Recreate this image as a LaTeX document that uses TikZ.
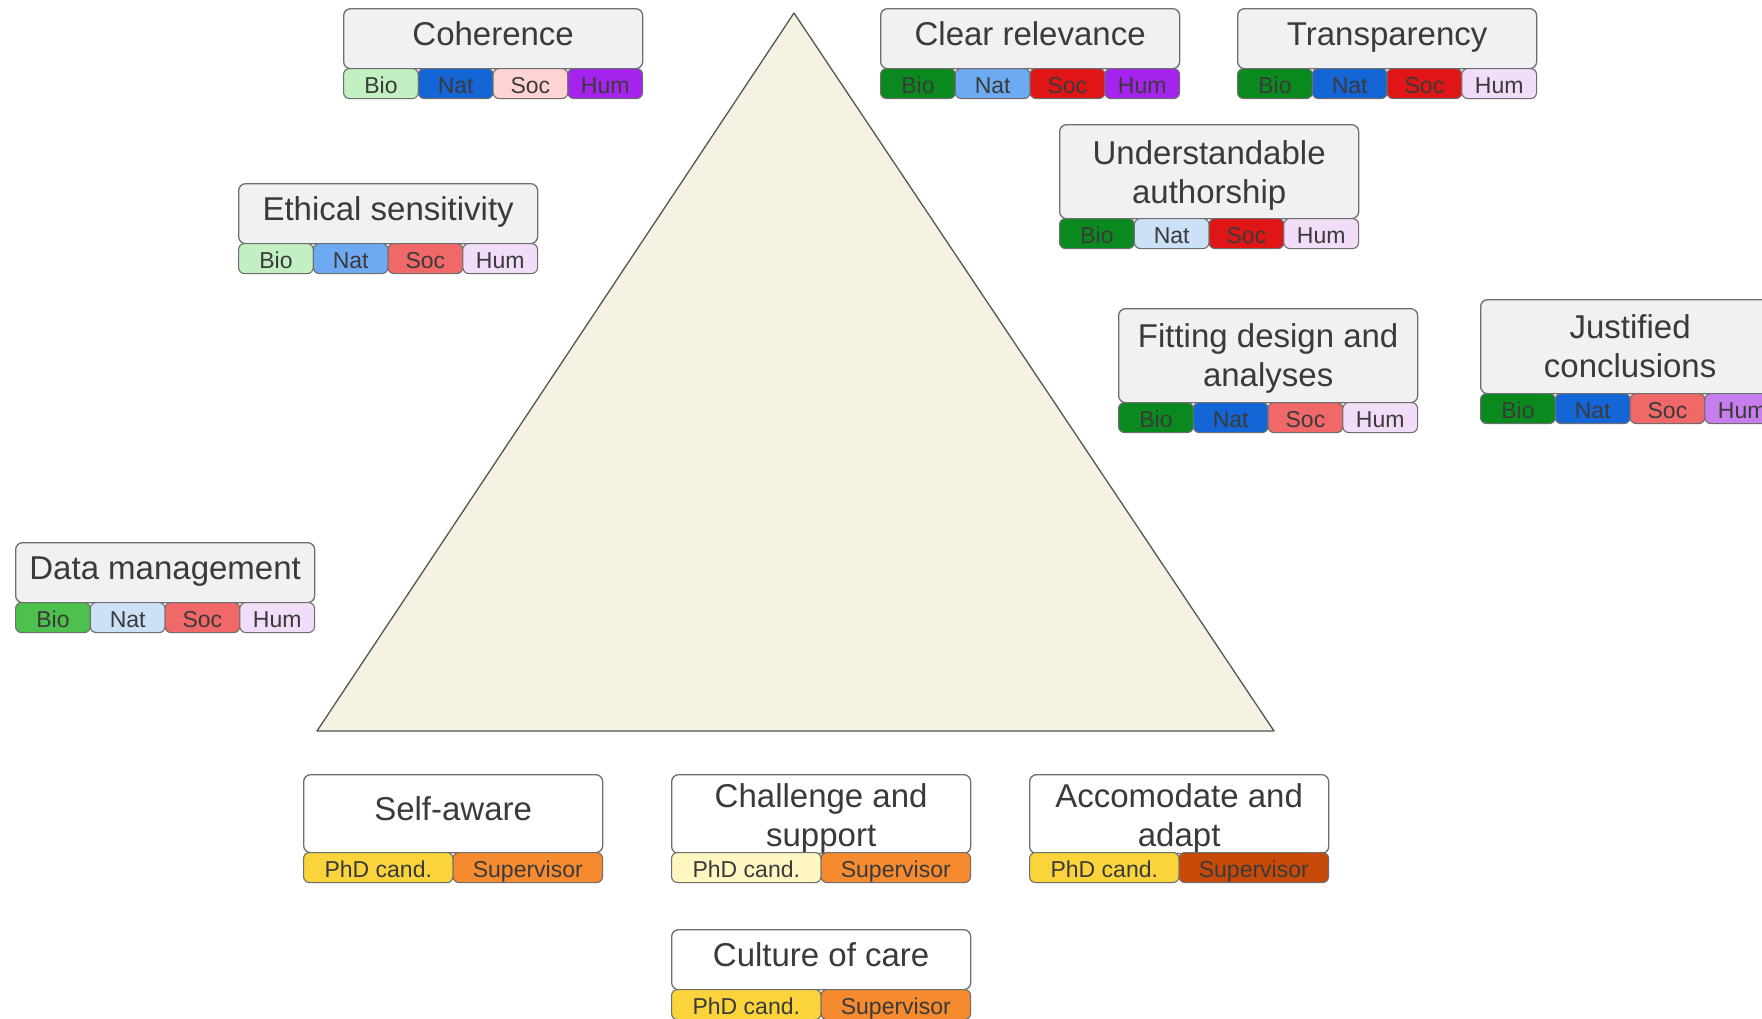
\documentclass[tikz,border=0pt]{standalone}
\usepackage{fontspec}
\setmainfont{Liberation Sans}
\definecolor{boxgray}{HTML}{F0F1F3}
\definecolor{edgegray}{HTML}{6E6E6E}
\definecolor{txtgray}{HTML}{3A3A3A}
\definecolor{tri}{HTML}{F5F2E2}
\definecolor{trigray}{HTML}{555555}
\definecolor{bioL}{HTML}{C2F0C2}
\definecolor{bioM}{HTML}{4DC04D}
\definecolor{bioD}{HTML}{0A8A1E}
\definecolor{natL}{HTML}{CCE0F7}
\definecolor{natM}{HTML}{6EAAF2}
\definecolor{natD}{HTML}{1466D6}
\definecolor{socL}{HTML}{FFD3D3}
\definecolor{socM}{HTML}{F16868}
\definecolor{socD}{HTML}{E01515}
\definecolor{humL}{HTML}{F1DDF8}
\definecolor{humM}{HTML}{C57EEC}
\definecolor{humD}{HTML}{A424EE}
\definecolor{phdY}{HTML}{FAD43A}
\definecolor{phdL}{HTML}{FFF6C2}
\definecolor{supO}{HTML}{F58B2E}
\definecolor{supD}{HTML}{C84A08}
% #1 name, #2 x, #3 y, #4 main height, #5 extra options, #6 text, #7..#9 colours
\newcommand\critfour[9]{%
  \node[mainbox, fill=boxgray, minimum height=#4pt, #5] (#1) at (#2,#3) {#6};
  \critfourtags{#1}{#2}{#3+#4}{#7}{#8}{#9}%
}
\newcommand\critfourtags[6]{%
  \node[tagbox, fill=#4, minimum width=74.75pt] (#1-bio) at (#2,#3) {Bio};
  \node[tagbox, fill=#5, minimum width=74.75pt] (#1-nat) at (#2+74.75,#3) {Nat};
  \node[tagbox, fill=#6, minimum width=74.75pt] (#1-soc) at (#2+149.5,#3) {Soc};
  \node[tagbox, fill=\lasthum, minimum width=74.75pt] (#1-hum) at (#2+224.25,#3) {Hum};
}
\newcommand\crittwo[8]{%
  \node[mainbox, fill=white, minimum height=#4pt, #5] (#1) at (#2,#3) {#6};
  \node[tagbox, fill=#7, minimum width=149.5pt] (#1-phd) at (#2,#3+#4) {PhD cand.};
  \node[tagbox, fill=#8, minimum width=149.5pt] (#1-sup) at (#2+149.5,#3+#4) {Supervisor};
}
\newcommand\topstrut[1]{\rule{0pt}{#1}}
\begin{document}
\begin{tikzpicture}[x=1pt,y=-1pt,
  mainbox/.style={draw=edgegray, line width=1.3pt, rounded corners=7pt,
    minimum width=299pt, anchor=north west, align=center, text=txtgray,
    font=\fontsize{33}{39}\selectfont, inner sep=0pt},
  oneline/.style={text height=24pt, text depth=11pt},
  tagbox/.style={draw=edgegray, line width=1.1pt, rounded corners=6pt,
    minimum height=30pt, anchor=north west, text=txtgray,
    font=\fontsize{23}{26}\selectfont, inner sep=0pt,
    text height=19pt, text depth=0pt}]
\useasboundingbox (0,0) rectangle (1762,1018);
\fill[white] (0,0) rectangle (1762,1018);
% pyramid
\coordinate (apex) at (794,13);
\coordinate (bl) at (317,731);
\coordinate (br) at (1274,731);
\draw[fill=tri, draw=trigray, line width=1.3pt, line join=round] (apex) -- (br) -- (bl) -- cycle;
% top criteria
\def\lasthum{humD}\critfour{coh}{343}{8}{60}{oneline}{Coherence}{bioL}{natD}{socL}
\def\lasthum{humD}\critfour{rel}{880}{8}{60}{oneline}{Clear relevance}{bioD}{natM}{socD}
\def\lasthum{humL}\critfour{tra}{1237}{8}{60}{oneline}{Transparency}{bioD}{natD}{socD}
\def\lasthum{humL}\critfour{eth}{238}{183}{60}{oneline}{Ethical sensitivity}{bioL}{natM}{socM}
\def\lasthum{humL}\critfour{aut}{1059}{124}{94}{}{\topstrut{31pt}Understandable\\authorship}{bioD}{natL}{socD}
\def\lasthum{humL}\critfour{fit}{1118}{308}{94}{}{\topstrut{29pt}Fitting design and\\analyses}{bioD}{natD}{socM}
\def\lasthum{humM}\critfour{jus}{1480}{299}{94}{}{Justified\\conclusions}{bioD}{natD}{socM}
\def\lasthum{humL}\critfour{dat}{15}{542}{60}{oneline}{Data management}{bioM}{natL}{socM}
% bottom
\crittwo{sel}{303}{774}{78}{oneline}{Self-aware}{phdY}{supO}
\crittwo{cha}{671}{774}{78}{}{\topstrut{33pt}Challenge and\\support}{phdL}{supO}
\crittwo{acc}{1029}{774}{78}{}{\topstrut{33pt}Accomodate and\\adapt}{phdY}{supD}
\crittwo{cul}{671}{929}{60}{oneline}{Culture of care}{phdY}{supO}
\end{tikzpicture}
\end{document}
